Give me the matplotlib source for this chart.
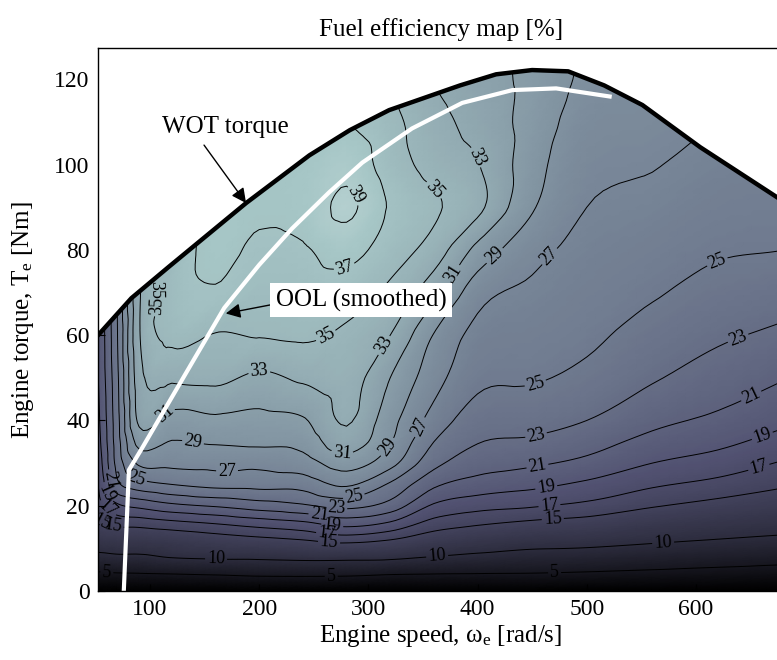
import numpy as np
import matplotlib
matplotlib.use("Agg")
import matplotlib.pyplot as plt
import matplotlib.tri as mtri

plt.rcParams["font.family"] = ["Liberation Serif", "DejaVu Serif"]
plt.rcParams["mathtext.fontset"] = "custom"
plt.rcParams["mathtext.rm"] = "Liberation Serif"
plt.rcParams["mathtext.it"] = "Liberation Serif:italic"

# ---- engine map data -------------------------------------------------------
speed = [52.4, 70, 90, 120, 160, 200, 240, 280, 320, 360, 400, 450, 500, 560, 620, 680.7]   # rad/s
torque = [0, 4, 8, 12, 16, 20, 25, 30, 35, 40, 50, 60, 70, 80, 90, 100, 110, 120, 128]      # Nm

# fuel efficiency [%]; one list per speed, values listed along the torque axis
eff_by_speed = [
    [0, 4.4, 9.0, 12.3, 14.6, 16.0, 17.0, 17.7, 18.2, 18.5, 18.9, 19.0, 19.0, 19.0, 19.0, 19.0, 19.0, 19.0, 19.0],
    [0, 4.7, 9.4, 12.6, 15.7, 18.6, 22.5, 23.7, 24.1, 24.3, 24.6, 24.9, 25.0, 25.0, 25.0, 25.0, 25.0, 25.0, 25.0],
    [0, 4.8, 9.4, 12.7, 15.9, 19.5, 24.2, 27.3, 29.7, 31.4, 32.2, 32.8, 32.7, 32.0, 32.0, 32.0, 32.0, 32.0, 32.0],
    [0, 5.0, 10.2, 13.1, 16.5, 20.5, 25.0, 27.5, 28.9, 30.2, 33.3, 35.5, 35.9, 35.6, 35.2, 35.0, 35.0, 35.0, 35.0],
    [0, 5.3, 10.6, 13.8, 17.2, 21.2, 25.6, 27.6, 29.2, 30.6, 33.5, 34.9, 36.8, 37.5, 37.3, 37.0, 37.0, 37.0, 37.0],
    [0, 5.7, 10.7, 14.4, 18.0, 22.0, 25.7, 27.5, 29.4, 30.4, 32.6, 35.1, 35.9, 36.6, 37.3, 37.2, 37.0, 37.0, 37.0],
    [0, 5.8, 11.0, 15.0, 18.7, 22.7, 25.8, 28.1, 29.7, 30.8, 33.3, 35.3, 36.0, 36.8, 37.6, 37.4, 37.0, 37.0, 37.0],
    [0, 5.7, 11.0, 15.8, 19.9, 23.6, 27.3, 29.9, 32.2, 33.2, 33.9, 34.6, 36.0, 37.7, 39.4, 38.3, 37.0, 36.5, 36.5],
    [0, 5.2, 10.8, 15.0, 18.8, 22.2, 24.7, 27.7, 29.1, 29.7, 31.0, 33.0, 34.5, 36.0, 36.8, 36.0, 35.6, 35.0, 35.0],
    [0, 5.0, 9.9, 13.5, 16.3, 18.7, 21.4, 23.6, 25.0, 26.2, 27.8, 28.9, 31.7, 34.1, 35.3, 34.3, 33.7, 33.0, 33.0],
    [0, 4.9, 9.2, 12.5, 15.4, 17.7, 20.2, 21.9, 23.1, 24.0, 25.5, 26.4, 27.8, 30.4, 33.5, 33.1, 32.3, 31.8, 31.8],
    [0, 4.8, 8.5, 11.7, 14.6, 17.2, 19.5, 21.3, 22.7, 23.7, 25.2, 25.9, 26.6, 27.7, 29.2, 29.8, 30.2, 30.5, 30.5],
    [0, 4.5, 8.2, 11.4, 14.1, 16.5, 18.6, 20.5, 21.8, 23.0, 24.5, 25.4, 25.9, 26.4, 27.0, 27.5, 28.0, 28.6, 28.8],
    [0, 4.1, 7.5, 10.6, 12.9, 15.2, 17.3, 19.0, 20.4, 21.5, 23.2, 24.2, 25.2, 25.8, 26.5, 27.1, 27.6, 28.0, 28.2],
    [0, 3.7, 6.9, 9.9, 12.1, 14.2, 16.4, 18.1, 19.5, 20.6, 22.1, 23.3, 24.3, 25.2, 25.8, 26.4, 27.0, 27.5, 27.7],
    [0, 3.3, 6.4, 9.3, 11.4, 13.2, 15.3, 16.8, 18.2, 19.4, 21.1, 22.6, 23.8, 25.0, 25.6, 26.0, 26.5, 27.0, 27.2],
]

levels = [5, 10, 15, 17, 19, 21, 23, 25, 27, 29, 31, 33, 35, 37, 39]

# wide-open-throttle torque limit
wot_speed = [52.4, 83, 117, 188, 246, 283, 319, 384, 417, 450, 483, 516, 551, 604, 680.7]
wot_torque = [60.0, 68.7, 76.0, 91.0, 102.2, 108.1, 112.8, 118.6, 121.2, 122.2, 121.9, 118.6, 114.0, 104.1, 91.3]

# optimal operating line (smoothed)
ool_speed = [76, 80.7, 92.7, 140, 168, 200, 230, 264, 294.5, 340, 386, 432, 472, 521]
ool_torque = [0, 28.4, 33.5, 54.2, 66.4, 76.5, 85.0, 93.5, 100.5, 108.5, 114.5, 117.5, 117.9, 116.0]

# where the contour values are written
label_spots = [
    (290, 93.3), (278, 76),
    (362, 94.5), (270.6, 55.3), (110, 67),
    (397, 101.5), (317, 57.2), (200, 51.8), (101, 70.6),
    (371.6, 75.3), (276, 32.3), (112, 42),
    (418, 78), (317.4, 33.8), (140, 35.9),
    (463, 79.2), (353, 37.7), (170.6, 27.9),
    (619, 77.6), (454, 47.8), (287, 21.8), (87, 26),
    (637.6, 60), (454, 36.1), (270.6, 19.5), (65, 26),
    (649.5, 46.4), (455, 29.1), (255, 17.4), (60, 23),
    (660, 37), (463, 24.2), (267, 15.5), (62, 19.5),
    (658, 28.7), (466, 19.7), (262, 13.1), (58, 17.4),
    (469, 16.6), (264, 11.5), (65, 14.3),
    (570, 11.3), (363, 8.2), (160.5, 7.3),
    (470.6, 4.2), (266, 3.75), (60.5, 4.5),
]

# ---- figure ----------------------------------------------------------------
fig = plt.figure(figsize=(7.77, 6.60), dpi=100)
ax = fig.add_axes([0.1261, 0.1045, 0.8829, 0.8223])

eff = np.array(eff_by_speed).T
S, T = np.meshgrid(speed, torque)
ns, nt = len(speed), len(torque)
cells = []
for j in range(nt - 1):
    for i in range(ns - 1):
        a = j * ns + i
        cells.append([a, a + 1, a + ns + 1])
        cells.append([a, a + ns + 1, a + ns])

# triangulate in comparable units so the smooth refinement is well conditioned
sx = 5.0
tri = mtri.Triangulation(S.ravel() / sx, T.ravel(), np.array(cells))
interp = mtri.CubicTriInterpolator(tri, eff.ravel(), kind="geom")
fine, eff_fine = mtri.UniformTriRefiner(tri).refine_field(eff.ravel(), triinterpolator=interp, subdiv=3)
fine = mtri.Triangulation(fine.x * sx, fine.y, fine.triangles)

ax.tripcolor(fine, eff_fine, shading="gouraud", cmap="bone", vmin=0, vmax=50.4, zorder=1)
cs = ax.tricontour(fine, eff_fine, levels=levels, colors="k", linewidths=0.7, zorder=2)
ax.clabel(cs, fmt="%d", manual=label_spots, inline=True, fontsize=13, inline_spacing=2)

# blank out the region above the torque limit
ax.fill_between(wot_speed, wot_torque, 140, color="white", lw=0, zorder=2.5)
ax.plot(wot_speed, wot_torque, color="k", lw=3.2, zorder=4)
ax.plot(ool_speed, ool_torque, color="white", lw=3, zorder=5)

arrow = dict(arrowstyle="-|>", color="k", lw=1, mutation_scale=22, shrinkA=0, shrinkB=0)
ax.text(169, 108.8, "WOT torque", ha="center", va="center", fontsize=18, zorder=6)
ax.annotate("", xy=(188, 91), xytext=(149.5, 104.6), arrowprops=arrow, zorder=6)
ax.annotate("", xy=(169.4, 65.1), xytext=(212, 67.2), arrowprops=arrow, zorder=6)
ax.text(293.6, 68.2, "OOL (smoothed)", ha="center", va="center", fontsize=18, zorder=7,
        bbox=dict(facecolor="white", edgecolor="none", pad=4))

ax.set_xlim(52.36, 680.7)
ax.set_ylim(0, 127.3)
ax.set_xticks([100, 200, 300, 400, 500, 600])
ax.set_yticks([0, 20, 40, 60, 80, 100, 120])
ax.tick_params(direction="in", top=True, right=True, length=5, width=0.8, labelsize=17, pad=6)
for sp in ax.spines.values():
    sp.set_linewidth(1.0)
    sp.set_zorder(8)

ax.set_title("Fuel efficiency map [%]", fontsize=18, pad=9)
ax.set_xlabel("Engine speed, ω$_\\mathregular{e}$ [rad/s]", fontsize=18, labelpad=2)
ax.set_ylabel("Engine torque, T$_\\mathregular{e}$ [Nm]", fontsize=18, labelpad=13)

fig.savefig("out.png", dpi=100)
